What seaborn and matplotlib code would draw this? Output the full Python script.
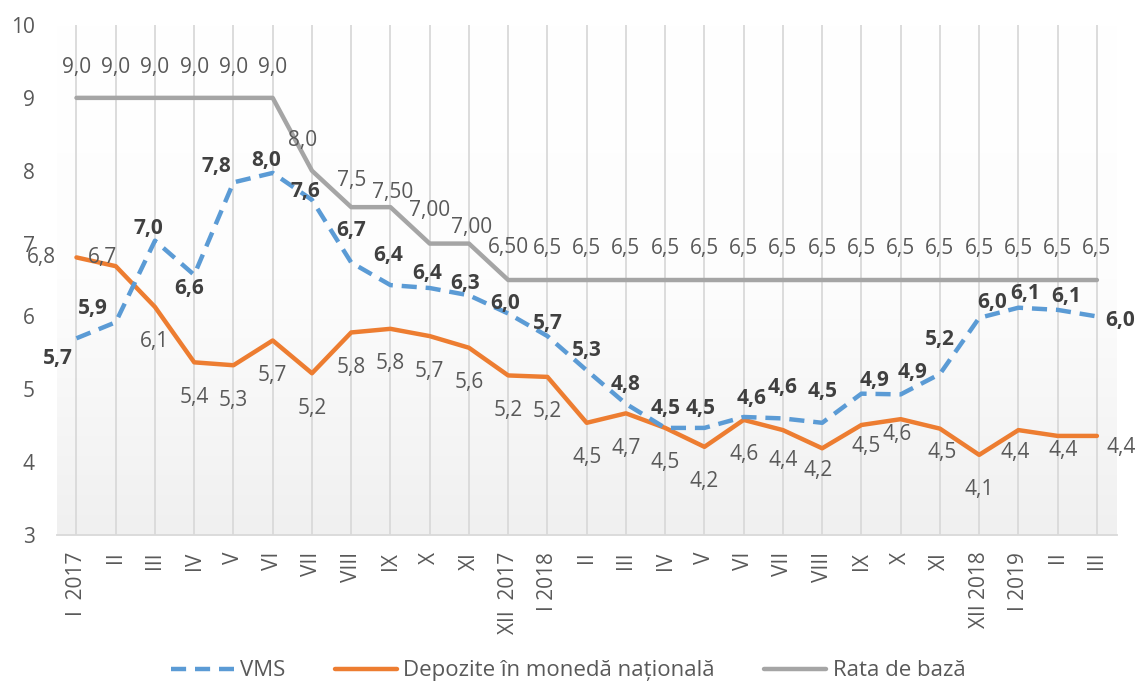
import numpy as np
import pandas as pd
import matplotlib
matplotlib.use("Agg")
import matplotlib.pyplot as plt
import seaborn as sns
from matplotlib.colors import LinearSegmentedColormap

# ---------------- data ----------------
months = ["I  2017", "II", "III", "IV", "V", "VI", "VII", "VIII", "IX", "X", "XI", "XII  2017",
          "I 2018", "II", "III", "IV", "V", "VI", "VII", "VIII", "IX", "X", "XI", "XII 2018",
          "I 2019", "II", "III"]
vms = [5.70, 5.92, 7.04, 6.57, 7.84, 7.97, 7.60, 6.74, 6.43, 6.39, 6.29, 6.04, 5.73,
       5.26, 4.80, 4.47, 4.47, 4.62, 4.60, 4.54, 4.94, 4.93, 5.21, 5.98, 6.12, 6.09, 6.00]
depozite = [6.81, 6.69, 6.13, 5.37, 5.33, 5.67, 5.22, 5.78, 5.83, 5.73, 5.57, 5.19, 5.17,
            4.54, 4.67, 4.47, 4.21, 4.58, 4.44, 4.19, 4.51, 4.59, 4.46, 4.10, 4.44, 4.36, 4.36]
rata = [9.0, 9.0, 9.0, 9.0, 9.0, 9.0, 8.0, 7.5, 7.5, 7.0, 7.0, 6.5, 6.5,
        6.5, 6.5, 6.5, 6.5, 6.5, 6.5, 6.5, 6.5, 6.5, 6.5, 6.5, 6.5, 6.5, 6.5]
rata_labels = ["9,0", "9,0", "9,0", "9,0", "9,0", "9,0", "8,0", "7,5", "7,50", "7,00", "7,00", "6,50"] + ["6,5"] * 15
series_names = ["VMS", "Depozite în monedă națională", "Rata de bază"]
y_ticks = [3, 4, 5, 6, 7, 8, 9, 10]

# ---------------- style ----------------
sns.set_theme(style="white")
plt.rcParams["font.family"] = ["Open Sans", "DejaVu Sans"]

C_BLUE = "#5B9BD5"
C_ORANGE = "#ED7D31"
C_GREY = "#A5A5A5"
C_TEXT = "#595959"
C_LABEL = "#404040"
FS = 15

fig = plt.figure(figsize=(11.37, 6.89), dpi=100)
ax = fig.add_axes([0.050, 0.2235, 0.932, 0.7402])

x = np.arange(len(months))
df = pd.DataFrame({"x": x, "vms": vms, "dep": depozite, "rata": rata})

# background gradient
grad = np.linspace(0, 1, 256).reshape(-1, 1)
cmap = LinearSegmentedColormap.from_list("bg", ["#ffffff", "#fdfdfd", "#f0f0f0"])
ax.imshow(grad, extent=[0, 1, 0, 1], transform=ax.transAxes, cmap=cmap,
          aspect="auto", origin="upper", zorder=0)

# vertical gridlines
for xi in x:
    ax.axvline(xi, color="#d9d9d9", lw=1.3, zorder=1)

sns.lineplot(data=df, x="x", y="rata", ax=ax, color=C_GREY, lw=3.2,
             label=series_names[2], zorder=3)
sns.lineplot(data=df, x="x", y="dep", ax=ax, color=C_ORANGE, lw=3.2,
             label=series_names[1], zorder=4)
sns.lineplot(data=df, x="x", y="vms", ax=ax, color=C_BLUE, lw=3.2,
             label=series_names[0], zorder=5)
ax.lines[-1].set_dashes((3.4, 2.0))

ax.set_xlim(-0.5, len(months) - 0.5)
ax.set_ylim(3, 10)
ax.set_yticks(y_ticks)
ax.set_yticklabels([str(t) for t in y_ticks])
ax.set_xticks(x)
ax.set_xticklabels(months, rotation=90)
ax.tick_params(axis="y", length=0, pad=16, labelsize=FS, labelcolor=C_TEXT)
ax.tick_params(axis="x", length=0, pad=12, labelsize=FS, labelcolor=C_TEXT)
ax.set_xlabel("")
ax.set_ylabel("")
for s in ["top", "right", "left"]:
    ax.spines[s].set_visible(False)
ax.spines["bottom"].set_color("#d9d9d9")
ax.spines["bottom"].set_linewidth(1.3)
ax.patch.set_alpha(0)

def fmt(v):
    return f"{v:.1f}".replace(".", ",")

# label offsets (pixels, dy positive upward)
rata_off = {i: (0, 30) for i in range(len(months))}
rata_off.update({6: (-9, 30), 7: (0, 27), 8: (2, 15), 9: (0, 33), 10: (3, 16), 11: (0, 33)})
for i in range(12, len(months)):
    rata_off[i] = (0, 32)

dep_off = {i: (0, -35) for i in range(len(months))}
dep_off.update({0: (-35, 0), 1: (-13, 9), 18: (0, -30), 19: (-4, -22), 20: (5, -22),
                21: (-4, -15), 22: (2, -24), 24: (-3, -22), 25: (6, -15), 26: (24, -12)})

vms_off = {0: (-19, -20), 1: (-23, 14), 2: (-7, 12), 3: (-5, -14), 4: (-17, 16),
           5: (-7, 12), 6: (-7, 8), 7: (0, 32), 8: (-2, 30), 9: (-3, 15), 10: (-4, 12),
           11: (-3, 10), 12: (0, 13), 13: (0, 20), 14: (0, 19), 15: (0, 19), 16: (-4, 19),
           17: (8, 18), 18: (0, 31), 19: (0, 31), 20: (13, 13), 21: (12, 22), 22: (0, 34),
           23: (13, 15), 24: (7, 14), 25: (9, 13), 26: (23, -4)}

for i in x:
    ax.annotate(rata_labels[i], (i, rata[i]), xytext=rata_off[i], textcoords="offset pixels",
                ha="center", va="center", fontsize=FS, color=C_TEXT, zorder=6)
    ax.annotate(fmt(depozite[i]), (i, depozite[i]), xytext=dep_off[i], textcoords="offset pixels",
                ha="center", va="center", fontsize=FS, color=C_TEXT, zorder=6)
    ax.annotate(fmt(vms[i]), (i, vms[i]), xytext=vms_off[i], textcoords="offset pixels",
                ha="center", va="center", fontsize=FS, color=C_LABEL, fontweight="bold", zorder=7)

handles, labels = ax.get_legend_handles_labels()
ax.get_legend().remove()
order = [labels.index(n) for n in series_names]
fig.legend([handles[k] for k in order], [labels[k] for k in order],
           loc="lower center", bbox_to_anchor=(0.5, -0.018), ncol=3, frameon=False,
           fontsize=16, handlelength=2.8, columnspacing=2.2, handletextpad=0.3,
           labelcolor=C_TEXT)

fig.savefig("out.png", dpi=100)
